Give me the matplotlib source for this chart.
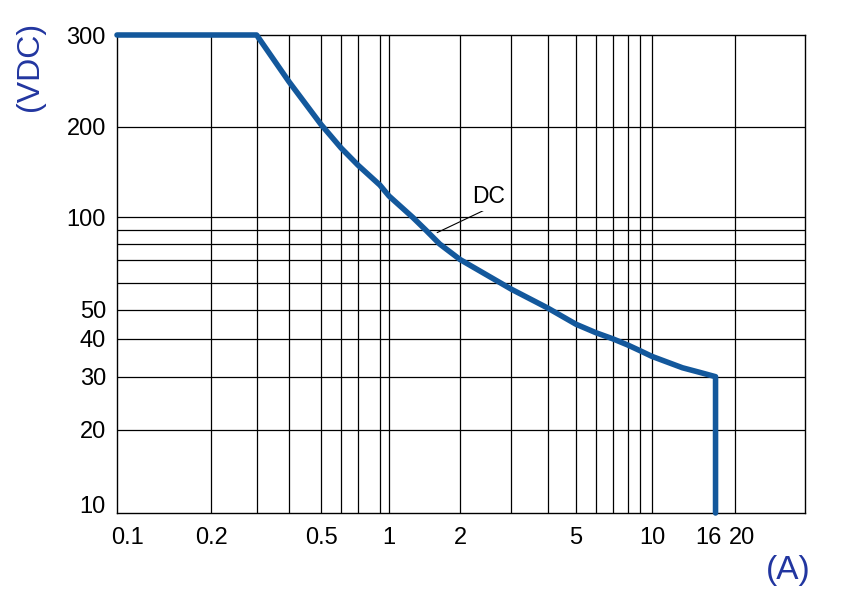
import numpy as np
import matplotlib
matplotlib.use("Agg")
import matplotlib.pyplot as plt
from matplotlib.transforms import ScaledTranslation

#------------------------------------------------------------------------------
# DC load limit curve
current = [0.1, 0.3, 0.4, 0.5, 0.6, 0.7, 0.9, 1.0, 1.26, 1.43, 1.64, 2, 3, 4,
           5, 6, 7, 8, 9, 10, 12.9, 14.9, 17, 17]
voltage = [300, 300, 244, 202, 170, 149, 128, 117.7, 100, 90, 80, 70.3, 57.4,
           50.5, 44.7, 41.9, 40, 38.2, 36.5, 35, 32.1, 31.0, 30, 10]

x_ticks = [0.1, 0.2, 0.5, 1, 2, 5, 10, 16, 20]
x_labels = ["0.1", "0.2", "0.5", "1", "2", "5", "10", "16", "20"]
x_grid = [0.2, 0.3, 0.4, 0.5, 0.6, 0.7, 0.9, 1, 2, 3, 4, 5, 6, 7, 8, 9, 10, 20]
y_ticks = [10, 20, 30, 40, 50, 100, 200, 300]
y_labels = ["10", "20", "30", "40", "50", "100", "200", "300"]
y_grid = [20, 30, 40, 50, 60, 70, 80, 90, 100, 200]

#------------------------------------------------------------------------------
# the printed paper is not a clean log grid: piecewise log scale (knots in px)
x_knot_val = [0.1, 0.2, 0.4, 0.5, 0.7, 1, 2, 5, 10, 20]
x_knot_pos = [0, 94, 172, 204, 241, 272, 343, 459, 535, 618]
y_knot_val = [10, 20, 50, 70, 100, 200, 300]
y_knot_pos = [0, 83, 203.5, 253, 295.7, 386.3, 478]


def paper_scale(vals, pos):
    lv = np.log10(vals)
    pos = np.asarray(pos, float)

    def stretch(t, a, b):
        t = np.asarray(t, float)
        out = np.interp(t, a, b)
        lo = (b[1] - b[0]) / (a[1] - a[0])
        hi = (b[-1] - b[-2]) / (a[-1] - a[-2])
        out = np.where(t < a[0], b[0] + (t - a[0]) * lo, out)
        out = np.where(t > a[-1], b[-1] + (t - a[-1]) * hi, out)
        return out

    fwd = lambda v: stretch(np.log10(np.clip(v, 1e-9, None)), lv, pos)
    inv = lambda p: 10 ** stretch(p, pos, lv)
    return fwd, inv


plt.rcParams['font.family'] = ['Liberation Sans', 'DejaVu Sans']

fig = plt.figure(figsize=(8.46, 6.01), dpi=100)
W, H = 846., 601.
ax = fig.add_axes([117 / W, (H - 513) / H, 688 / W, 478 / H])

xf, xi = paper_scale(x_knot_val, x_knot_pos)
yf, yi = paper_scale(y_knot_val, y_knot_pos)
ax.set_xscale('function', functions=(xf, xi))
ax.set_yscale('function', functions=(yf, yi))
ax.set_xlim(0.1, float(xi(688.0)))
ax.set_ylim(10, 300)

# grid of the chart paper
for gx in x_grid:
    ax.axvline(gx, color='black', linewidth=0.9, zorder=1)
for gy in y_grid:
    ax.axhline(gy, color='black', linewidth=0.9, zorder=1)

ax.plot(current, voltage, color='#13589c', linewidth=4, zorder=4,
        solid_capstyle='round', solid_joinstyle='round', clip_on=False)

ax.set_xticks(x_ticks)
ax.set_xticklabels(x_labels)
ax.set_yticks(y_ticks)
ax.set_yticklabels(y_labels)
ax.minorticks_off()
ax.tick_params(which='both', length=0, labelsize=17, colors='black')
ax.tick_params(axis='x', pad=10)
ax.tick_params(axis='y', pad=8)
for s in ax.spines.values():
    s.set_linewidth(1.0)
    s.set_color('black')

# label nudges as printed
ax.yaxis.get_major_ticks()[0].label1.set_verticalalignment('baseline')
xt = ax.xaxis.get_major_ticks()
xt[0].label1.set_transform(xt[0].label1.get_transform()
                           + ScaledTranslation(0.11, 0, fig.dpi_scale_trans))
xt[-1].label1.set_transform(xt[-1].label1.get_transform()
                            + ScaledTranslation(0.07, 0, fig.dpi_scale_trans))

ax.annotate("DC", xy=(1.6, 88), xytext=(2.5, 117), ha='center', va='center',
            fontsize=16.5, zorder=5,
            bbox=dict(boxstyle='square,pad=0.1', fc='white', ec='none'),
            arrowprops=dict(arrowstyle='-', color='black', lw=0.8,
                            shrinkA=0, shrinkB=0, relpos=(0.5, 0)))

fig.text(30 / W, 1 - 66 / H, "(VDC)", rotation=90, fontsize=23,
         color='#2236a0', ha='center', va='center')
fig.text(788 / W, 1 - 571 / H, "(A)", fontsize=24,
         color='#2236a0', ha='center', va='center')

fig.savefig("out.png", dpi=100)
